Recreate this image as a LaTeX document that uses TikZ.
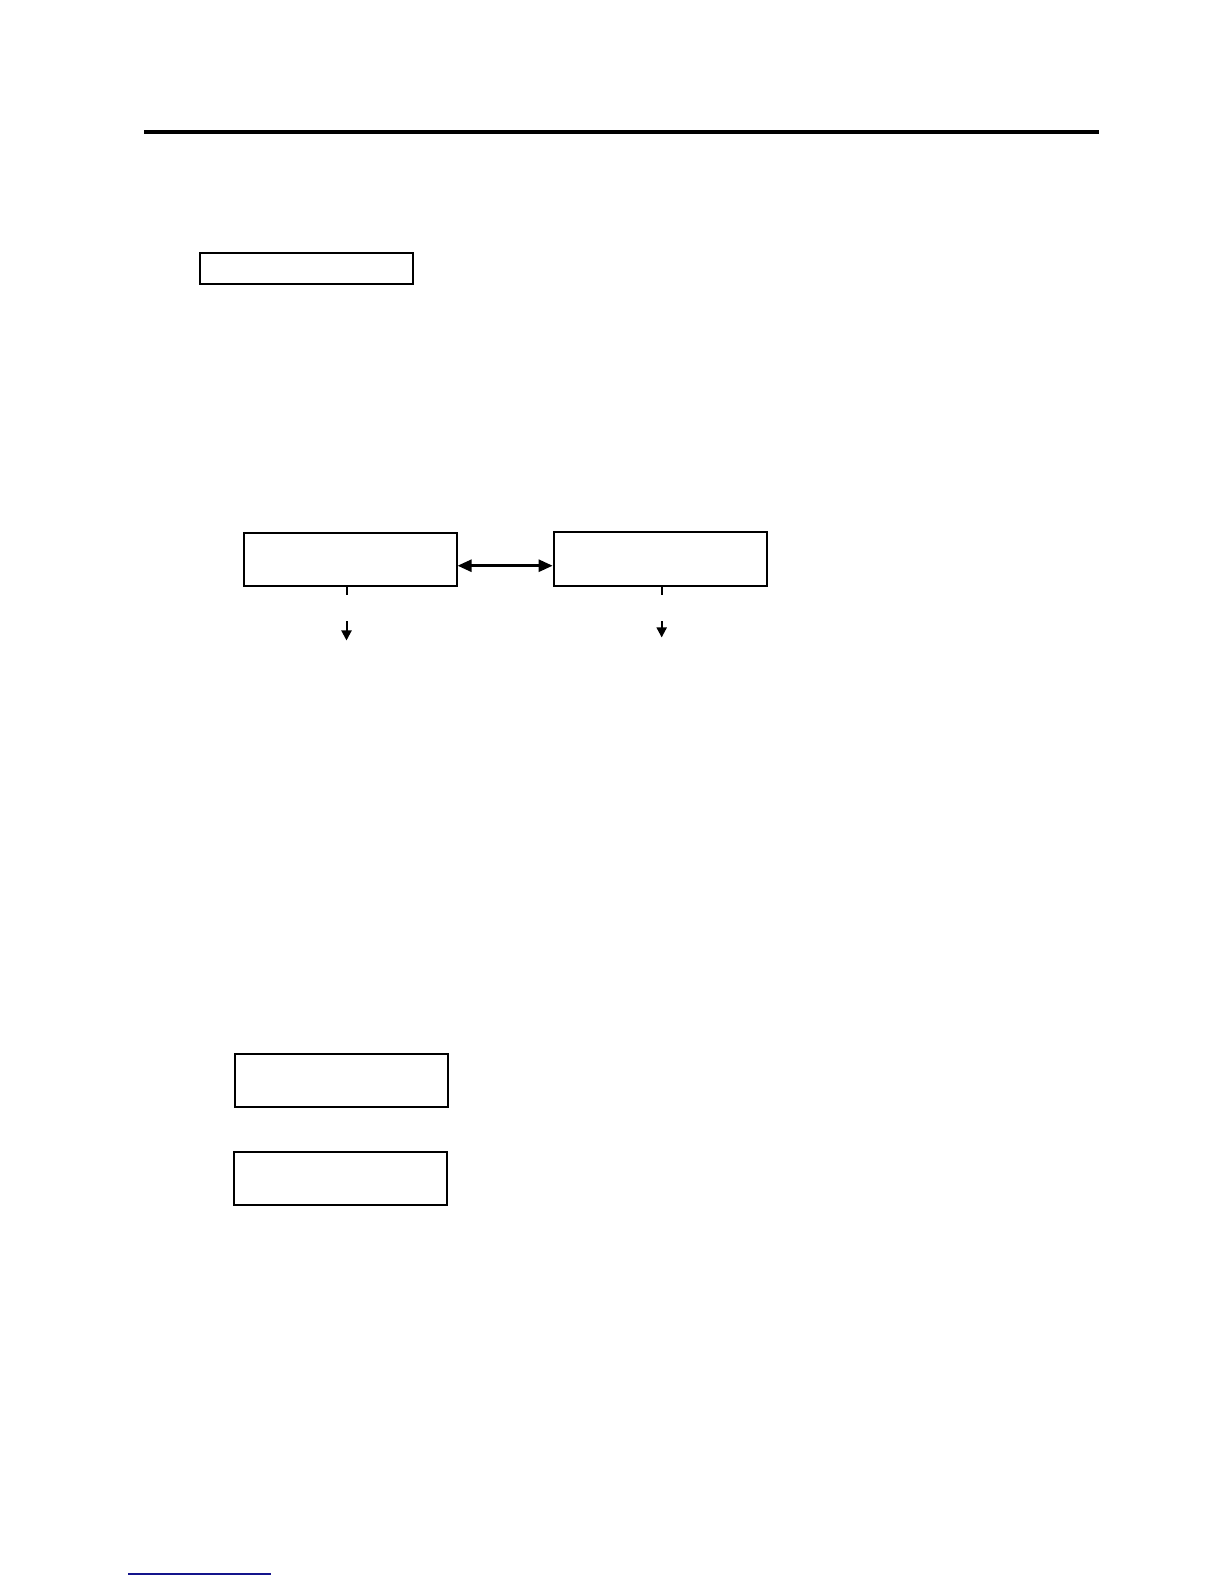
\documentclass[tikz,border=0pt]{standalone}
\usetikzlibrary{arrows.meta}
\begin{document}
\begin{tikzpicture}[x=0.505pt,y=-0.505pt,
  box/.style={draw=black,line width=1pt,minimum width=106.5pt,inner sep=0pt,fill=white},
  conn/.style={line width=1pt,-{Triangle[length=5pt,width=5pt]}},
  tick/.style={line width=1pt}]
\useasboundingbox (0,0) rectangle (1212,1568);
\fill[white] (0,0) rectangle (1212,1568);
% header rule
\coordinate (r1) at (143,131);
\coordinate (r2) at (1088,131);
\draw[line width=2pt] (r1) -- (r2);
% boxes
\node[box,minimum height=15.7pt] (t) at (303,265.5) {};
\node[box,minimum height=26.3pt] (a) at (346.5,554) {};
\node[box,minimum height=26.8pt] (b) at (653.5,553.5) {};
\node[box,minimum height=26.8pt] (c) at (338.5,1069.5) {};
\node[box,minimum height=26.8pt] (d) at (337.5,1166.5) {};
% double arrow
\draw[line width=1.3pt,{Triangle[length=7pt,width=6pt]}-{Triangle[length=7pt,width=6pt]}] (a.east) ++(0,6) coordinate (ae) -- (ae -| b.west);
% ticks and arrows below
\coordinate (at) at (343,589);
\coordinate (as) at (343,615);
\coordinate (ae2) at (343,634);
\draw[tick] (a.south -| at) -- (at);
\draw[conn] (as) -- (ae2);
\coordinate (bt) at (655,589);
\coordinate (bs) at (655,615);
\coordinate (be2) at (655,631);
\draw[tick] (b.south -| bt) -- (bt);
\draw[conn] (bs) -- (be2);
% footer blue line
\definecolor{footblue}{RGB}{20,20,140}
\coordinate (f1) at (127,1558);
\coordinate (f2) at (268,1558);
\draw[footblue,line width=0.8pt] (f1) -- (f2);
\end{tikzpicture}
\end{document}
